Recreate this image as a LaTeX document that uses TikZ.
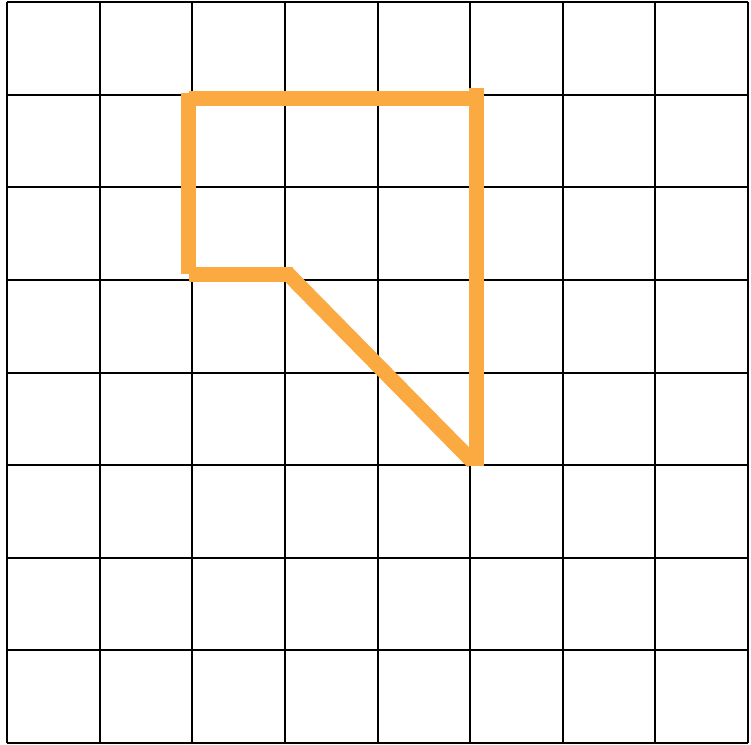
\documentclass[tikz,border=0pt]{standalone}
\definecolor{shapeorange}{RGB}{251,169,65}
\tikzset{
  gridline/.style={line width=2pt, black},
  orangeseg/.style={line width=15pt, shapeorange, line cap=butt}
}
\begin{document}
\begin{tikzpicture}[x=1pt,y=-1pt]
\useasboundingbox (0,0) rectangle (751,744);
\fill[white] (0,0) rectangle (751,744);
% grid
\foreach \i in {0,...,8} {
  \draw[gridline] ({7+92.625*\i},2) -- ({7+92.625*\i},743);
  \draw[gridline] (7,{2+92.625*\i}) -- (748,{2+92.625*\i});
}
% orange outline drawn as separate strokes
\coordinate (lt) at (188,93);
\coordinate (lb) at (188,274);
\coordinate (tl) at (189,98);
\coordinate (tr) at (470,98);
\coordinate (rt) at (476,88);
\coordinate (rb) at (476,466);
\coordinate (bl) at (189,274);
\coordinate (br) at (293,274);
\coordinate (ds) at (287,273);
\coordinate (de) at (473,462);
\draw[orangeseg] (lt) -- (lb);
\draw[orangeseg] (tl) -- (tr);
\draw[orangeseg] (rt) -- (rb);
\draw[orangeseg] (bl) -- (br);
\draw[orangeseg] (ds) -- (de);
\end{tikzpicture}
\end{document}
